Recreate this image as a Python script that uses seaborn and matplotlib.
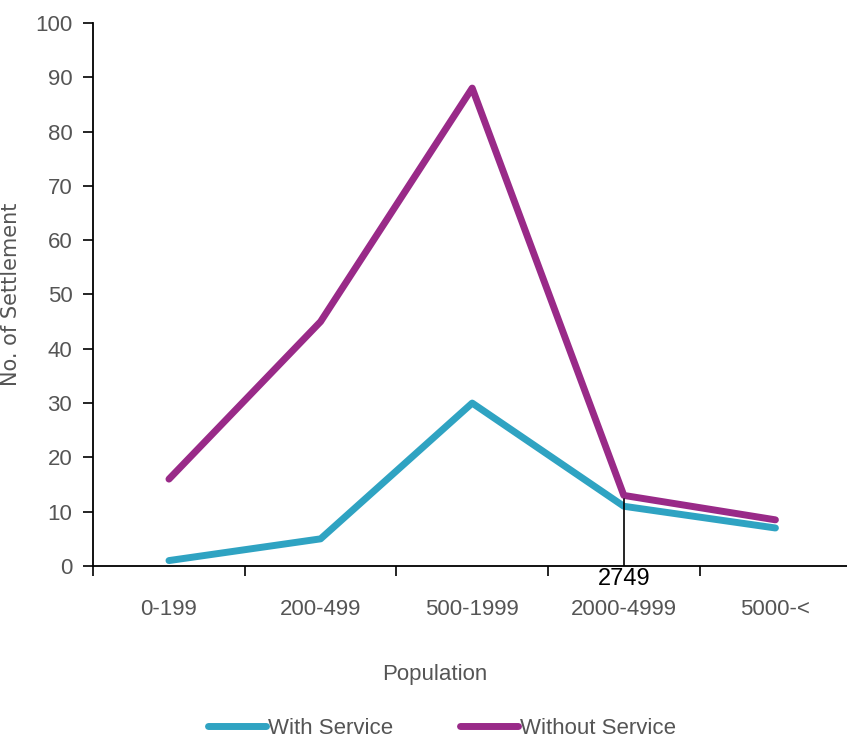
import pandas as pd
import matplotlib
matplotlib.use('Agg')
import matplotlib.pyplot as plt
import seaborn as sns
from matplotlib.ticker import FixedLocator

# Data
population = ['0-199', '200-499', '500-1999', '2000-4999', '5000-<']
with_service = [1, 5, 30, 11, 7]
without_service = [16, 45, 88, 13, 8.5]

df = pd.DataFrame({
    'Population': population * 2,
    'Settlements': with_service + without_service,
    'Type': ['With Service'] * 5 + ['Without Service'] * 5,
})
df['x'] = list(range(5)) * 2

sns.set_style('white')
plt.rcParams['font.family'] = ['Liberation Sans', 'DejaVu Sans']

fig = plt.figure(figsize=(8.47, 7.47), dpi=100)
ax = fig.add_axes([0.110, 0.2423, 0.895, 0.727])

palette = {'With Service': '#2fa3c2', 'Without Service': '#992a88'}
sns.lineplot(data=df, x='x', y='Settlements', hue='Type', palette=palette,
             linewidth=5, ax=ax, legend=True)

# annotation line at 2000-4999
ax.plot([3, 3], [0, 12.3], color='black', linewidth=1.2)
ax.text(3, -0.3, '2749', ha='center', va='top', fontsize=17, color='black')

ax.set_xlim(-0.5, 4.5)
ax.set_ylim(0, 100)
ax.set_yticks(range(0, 101, 10))
ax.set_xticks(range(5))
ax.set_xticklabels(population)
ax.xaxis.set_minor_locator(FixedLocator([-0.5, 0.5, 1.5, 2.5, 3.5]))
ax.tick_params(axis='x', which='major', length=0, pad=24, labelsize=16, labelcolor='#555555')
ax.tick_params(axis='x', which='minor', length=7, width=1.2, direction='out', color='black')
ax.tick_params(axis='y', length=7, width=1.2, direction='out', color='black',
               labelsize=16, labelcolor='#555555', pad=8)
ax.tick_params(bottom=True, left=True, which='both')

for s in ['top', 'right']:
    ax.spines[s].set_visible(False)
for s in ['left', 'bottom']:
    ax.spines[s].set_color('black')
    ax.spines[s].set_linewidth(1.3)

ax.set_xlabel('Population', fontsize=16, color='#555555')
ax.xaxis.set_label_coords(0.45, -0.18)
ax.set_ylabel('No. of Settlement', fontsize=15, color='#555555',
              family='DejaVu Sans')
ax.yaxis.set_label_coords(-0.095, 0.5)

handles, labels = ax.get_legend_handles_labels()
ax.legend(handles, labels, loc='lower center', bbox_to_anchor=(0.46, -0.355),
          ncol=2, frameon=False, fontsize=16, handlelength=2.6,
          handletextpad=0.1, columnspacing=3.0,
          labelcolor='#555555')

fig.savefig('out.png', dpi=100)
